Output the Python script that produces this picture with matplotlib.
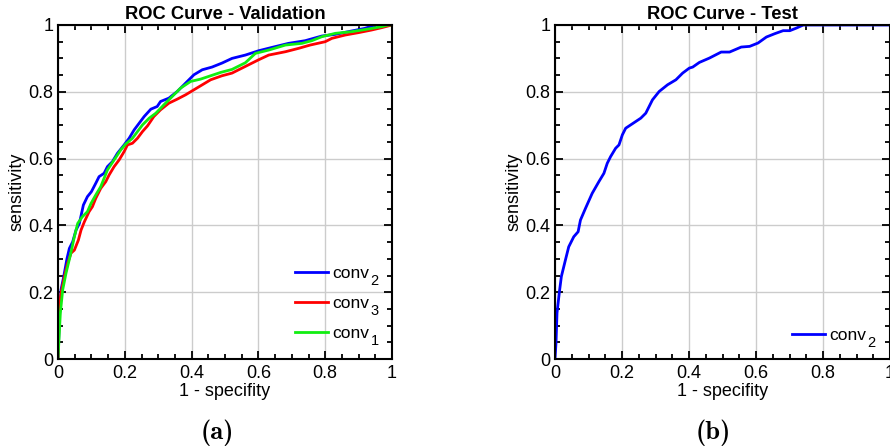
import matplotlib
matplotlib.use("Agg")
import matplotlib.pyplot as plt
from matplotlib.ticker import MultipleLocator

# ROC points (1 - specificity, sensitivity)
val_conv2_fpr = [0, 0.004, 0.009, 0.017, 0.027, 0.034, 0.044, 0.054, 0.064, 0.076, 0.088, 0.1, 0.113,
                 0.123, 0.138, 0.148, 0.163, 0.178, 0.198, 0.213, 0.228, 0.243, 0.258, 0.278, 0.297,
                 0.307, 0.332, 0.357, 0.382, 0.407, 0.432, 0.461, 0.491, 0.521, 0.561, 0.601, 0.641,
                 0.69, 0.74, 0.79, 0.83, 0.879, 0.919, 0.949, 1.0]
val_conv2_tpr = [0, 0.117, 0.207, 0.246, 0.301, 0.331, 0.351, 0.386, 0.406, 0.461, 0.486, 0.501, 0.526,
                 0.546, 0.556, 0.576, 0.591, 0.616, 0.641, 0.661, 0.686, 0.706, 0.726, 0.748, 0.756,
                 0.771, 0.781, 0.801, 0.826, 0.851, 0.866, 0.874, 0.886, 0.9, 0.91, 0.923, 0.933,
                 0.945, 0.953, 0.967, 0.972, 0.982, 0.99, 1.0, 1.0]

val_conv3_fpr = [0, 0.004, 0.009, 0.019, 0.029, 0.039, 0.049, 0.061, 0.069, 0.079, 0.093, 0.103, 0.113,
                 0.128, 0.143, 0.153, 0.168, 0.183, 0.198, 0.208, 0.223, 0.238, 0.253, 0.268, 0.287,
                 0.307, 0.332, 0.357, 0.382, 0.407, 0.432, 0.457, 0.491, 0.521, 0.561, 0.601, 0.631,
                 0.681, 0.72, 0.755, 0.8, 0.82, 0.86, 0.899, 0.939, 0.969, 1.0]
val_conv3_tpr = [0, 0.157, 0.197, 0.246, 0.287, 0.317, 0.326, 0.356, 0.386, 0.411, 0.441, 0.456, 0.481,
                 0.511, 0.531, 0.551, 0.576, 0.596, 0.621, 0.641, 0.646, 0.661, 0.681, 0.698, 0.726,
                 0.746, 0.766, 0.778, 0.791, 0.806, 0.821, 0.836, 0.848, 0.856, 0.876, 0.896, 0.91,
                 0.92, 0.93, 0.94, 0.95, 0.96, 0.97, 0.977, 0.985, 0.992, 1.0]

val_conv1_fpr = [0, 0.007, 0.014, 0.024, 0.037, 0.049, 0.059, 0.073, 0.088, 0.099, 0.113, 0.128, 0.148,
                 0.168, 0.188, 0.203, 0.223, 0.238, 0.253, 0.273, 0.293, 0.317, 0.342, 0.367, 0.397,
                 0.427, 0.457, 0.487, 0.521, 0.561, 0.591, 0.631, 0.681, 0.73, 0.76, 0.79, 0.83,
                 0.879, 0.929, 0.969, 0.989, 1.0]
val_conv1_tpr = [0, 0.137, 0.207, 0.257, 0.311, 0.366, 0.406, 0.426, 0.441, 0.466, 0.491, 0.516, 0.566,
                 0.596, 0.626, 0.644, 0.661, 0.681, 0.701, 0.721, 0.736, 0.761, 0.786, 0.811, 0.831,
                 0.838, 0.848, 0.858, 0.867, 0.887, 0.915, 0.925, 0.94, 0.945, 0.953, 0.965, 0.975,
                 0.98, 0.988, 0.995, 1.0, 1.0]

test_conv2_fpr = [0, 0.003, 0.006, 0.013, 0.019, 0.031, 0.041, 0.056, 0.069, 0.076, 0.091, 0.111, 0.131,
                  0.146, 0.156, 0.166, 0.181, 0.191, 0.201, 0.211, 0.226, 0.241, 0.256, 0.271, 0.281,
                  0.291, 0.311, 0.336, 0.361, 0.381, 0.401, 0.411, 0.431, 0.461, 0.496, 0.521, 0.556,
                  0.581, 0.606, 0.631, 0.656, 0.681, 0.701, 0.721, 0.741, 1.0]
test_conv2_tpr = [0, 0.048, 0.138, 0.2, 0.247, 0.296, 0.336, 0.366, 0.381, 0.416, 0.451, 0.496, 0.531,
                  0.556, 0.586, 0.606, 0.631, 0.641, 0.671, 0.691, 0.701, 0.711, 0.721, 0.736, 0.756,
                  0.776, 0.801, 0.821, 0.836, 0.856, 0.871, 0.874, 0.888, 0.901, 0.919, 0.919, 0.934,
                  0.936, 0.946, 0.964, 0.974, 0.983, 0.983, 0.991, 1.0, 1.0]

# legend names and their subscripts
val_names = ['conv', 'conv', 'conv']
val_subs = ['2', '3', '1']
test_names = ['conv']
test_subs = ['2']

plt.rcParams['font.family'] = ['Liberation Sans', 'DejaVu Sans']

BLUE = '#0000ff'
RED = '#ff0000'
GREEN = '#11ee11'


def style_axes(ax, title):
    ax.set_xlim(0, 1)
    ax.set_ylim(0, 1)
    ax.xaxis.set_major_locator(MultipleLocator(0.2))
    ax.yaxis.set_major_locator(MultipleLocator(0.2))
    ax.xaxis.set_minor_locator(MultipleLocator(0.05))
    ax.yaxis.set_minor_locator(MultipleLocator(0.05))
    ax.xaxis.set_major_formatter(lambda v, p: f"{v:g}")
    ax.yaxis.set_major_formatter(lambda v, p: f"{v:g}")
    ax.tick_params(which='both', direction='in', top=True, right=True, width=1.3, labelsize=13)
    ax.tick_params(which='major', length=6)
    ax.tick_params(which='minor', length=3.5)
    ax.tick_params(axis='x', which='major', pad=4)
    ax.tick_params(axis='y', which='major', pad=3.5)
    ax.grid(True, which='major', color='#cccccc', linewidth=1.0)
    ax.set_axisbelow(True)
    for s in ax.spines.values():
        s.set_linewidth(1.5)
    ax.set_title(title, fontsize=13.2, fontweight='bold', pad=4.5)
    ax.set_xlabel("1 - specifity", fontsize=13, labelpad=1)
    ax.set_ylabel("sensitivity", fontsize=13, labelpad=2)


def add_legend(ax, names, subs, anchor):
    leg = ax.legend(names, loc='upper left', bbox_to_anchor=anchor, frameon=False,
                    handlelength=1.9, handletextpad=0.25, labelspacing=0.86,
                    borderpad=0, borderaxespad=0, fontsize=12.5)
    # subscripts drawn after the legend so they follow its laid-out texts
    for t, s in zip(leg.get_texts(), subs):
        ax.annotate(s, xy=(1, 0), xycoords=t, xytext=(0.8, -2.8), textcoords='offset points',
                    fontsize=10.5, ha='left', va='baseline', zorder=10)
    return leg


fig = plt.figure(figsize=(8.9, 4.46), dpi=100)
ax1 = fig.add_axes([58 / 890, 87 / 446, 334 / 890, 334 / 446])
ax2 = fig.add_axes([555 / 890, 87 / 446, 335 / 890, 334 / 446])

ax1.plot(val_conv2_fpr, val_conv2_tpr, color=BLUE, lw=2)
ax1.plot(val_conv3_fpr, val_conv3_tpr, color=RED, lw=2)
ax1.plot(val_conv1_fpr, val_conv1_tpr, color=GREEN, lw=2)
style_axes(ax1, "ROC Curve - Validation")
add_legend(ax1, val_names, val_subs, (0.7096, 0.28))

ax2.plot(test_conv2_fpr, test_conv2_tpr, color=BLUE, lw=2)
style_axes(ax2, "ROC Curve - Test")
add_legend(ax2, test_names, test_subs, (0.7066, 0.094))

fig.text(217 / 890, 1 - 433 / 446, "(a)", fontfamily='cmb10', fontsize=19, ha='center', va='center')
fig.text(713 / 890, 1 - 433 / 446, "(b)", fontfamily='cmb10', fontsize=19, ha='center', va='center')

fig.canvas.draw()
fig.savefig("out.png", dpi=100)
